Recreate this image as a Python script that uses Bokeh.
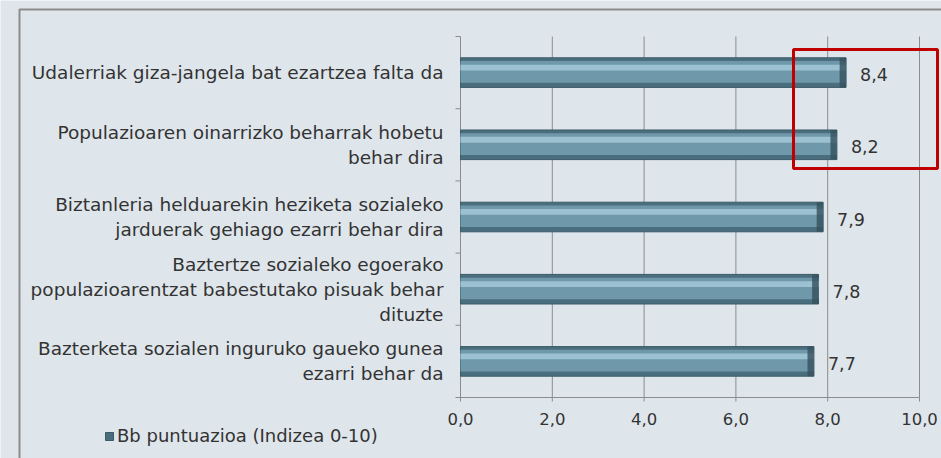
from bokeh.plotting import figure
from bokeh.models import (ColumnDataSource, Range1d, BoxAnnotation, Legend, LegendItem)
from bokeh.core.properties import value
from bokeh.embed import file_html
from bokeh.resources import INLINE

# ---- data ----
categories = [
    "Udalerriak giza-jangela bat ezartzea falta da",
    "Populazioaren oinarrizko beharrak hobetu\nbehar dira",
    "Biztanleria helduarekin heziketa sozialeko\njarduerak gehiago ezarri behar dira",
    "Baztertze sozialeko egoerako\npopulazioarentzat babestutako pisuak behar\ndituzte",
    "Bazterketa sozialen inguruko gaueko gunea\nezarri behar da",
]
values = [8.4, 8.2, 7.9, 7.8, 7.7]
series_name = "Bb puntuazioa (Indizea 0-10)"
x_ticks = [0, 2, 4, 6, 8, 10]
x_tick_labels = ["0,0", "2,0", "4,0", "6,0", "8,0", "10,0"]

FONT = "DejaVu Sans"
BG = "#dfe6eb"
GRID = "#8c8c8c"
TXT = "#333333"

W, H = 941, 458
# plot-area placement inside the canvas (pixels)
PL, PR, PT, PB = 460, 919, 36, 397

n = len(categories)
xmin, xmax = x_ticks[0], x_ticks[-1]
ppx = (PR - PL) / (xmax - xmin)      # px per x unit
ppy = (PB - PT) / n                  # px per category

x_range = Range1d(xmin - PL / ppx, xmax + (W - PR) / ppx)
y_range = Range1d(-(H - PB) / ppy, n + PT / ppy)

pos = [n - i - 0.5 for i in range(n)]  # top to bottom
labels = [f"{v:.1f}".replace(".", ",") for v in values]

src = ColumnDataSource(dict(
    y=pos, v=values, lab=labels, cat=categories,
    y_hi=[p + 0.07 for p in pos],
    y_mid=[p + 0.01 for p in pos],
    cap_l=[v - 0.14 for v in values],
    zero=[xmin] * n,
))

p = figure(width=W, height=H, output_backend="svg", toolbar_location=None,
           x_range=x_range, y_range=y_range,
           x_axis_location=None, y_axis_location=None,
           min_border=0)
p.background_fill_color = BG
p.border_fill_color = BG
p.outline_line_color = None
p.xgrid.visible = False
p.ygrid.visible = False

# ---- value axis (x): grid, axis line, ticks, labels ----
tick_x = 4 / ppy
p.segment(x0=x_ticks[1:], y0=[0] * (len(x_ticks) - 1), x1=x_ticks[1:],
          y1=[n] * (len(x_ticks) - 1), line_color=GRID, line_width=1)
p.segment(x0=[xmin], y0=[0], x1=[xmax], y1=[0], line_color=GRID, line_width=1)
p.segment(x0=x_ticks, y0=[0] * len(x_ticks), x1=x_ticks,
          y1=[-tick_x] * len(x_ticks), line_color=GRID, line_width=1)
p.text(x=x_ticks, y=[0] * len(x_ticks), text=x_tick_labels,
       y_offset=21, text_font=value(FONT), text_font_size="16.5px",
       text_color=TXT, text_align="center", text_baseline="middle")

# ---- category axis (y): axis line, boundary ticks, labels ----
bounds = list(range(n + 1))
tick_y = 5 / ppx
p.segment(x0=[xmin], y0=[0], x1=[xmin], y1=[n], line_color=GRID, line_width=1)
p.segment(x0=[xmin - tick_y] * len(bounds), y0=bounds, x1=[xmin] * len(bounds),
          y1=bounds, line_color=GRID, line_width=1)
p.text(x="zero", y="y", text="cat", source=src, x_offset=-17,
       text_font=value(FONT), text_font_size="18.5px", text_color=TXT,
       text_align="right", text_baseline="middle", text_line_height=1.2)

# ---- bars (layered for a bevel look) ----
base = p.hbar(y="y", left=xmin, right="v", height=0.41, source=src,
              fill_color="#4a6e7d", line_color="#3b5a68", line_width=1)
p.hbar(y="y_mid", left=xmin, right="v", height=0.30, source=src,
       fill_color="#6f99aa", line_color=None)
p.hbar(y="y_hi", left=xmin, right="v", height=0.08, source=src,
       fill_color="#9cc2d1", line_color=None)
p.hbar(y="y", left="cap_l", right="v", height=0.41, source=src,
       fill_color="#34505c", line_color=None, fill_alpha=0.8)

p.text(x="v", y="y", text="lab", source=src, x_offset=14, y_offset=2,
       text_font=value(FONT), text_font_size="17.5px", text_color=TXT,
       text_align="left", text_baseline="middle")

# ---- highlight box and outer frame ----
p.add_layout(BoxAnnotation(left=793, right=937, top=49, bottom=168,
                           left_units="canvas", right_units="canvas",
                           top_units="canvas", bottom_units="canvas",
                           fill_color=None, line_color="#c00000",
                           line_alpha=1.0, line_width=3))
p.add_layout(BoxAnnotation(left=19, right=W + 20, top=9, bottom=H + 20,
                           left_units="canvas", right_units="canvas",
                           top_units="canvas", bottom_units="canvas",
                           fill_color=None, line_color="#8c8c8c",
                           line_alpha=1.0, line_width=2))

legend = Legend(items=[LegendItem(label=series_name, renderers=[base])],
                location=(104, 12), orientation="horizontal")
legend.background_fill_alpha = 0
legend.border_line_color = None
legend.padding = 0
legend.margin = 0
legend.glyph_width = 10
legend.glyph_height = 10
legend.label_standoff = 3
legend.label_text_font = FONT
legend.label_text_font_size = "18px"
legend.label_text_color = TXT
p.add_layout(legend, "center")

html = file_html(p, INLINE)
html = html.replace("<body>", '<body style="background:%s">' % BG, 1)
open("out.html", "w").write(html)
